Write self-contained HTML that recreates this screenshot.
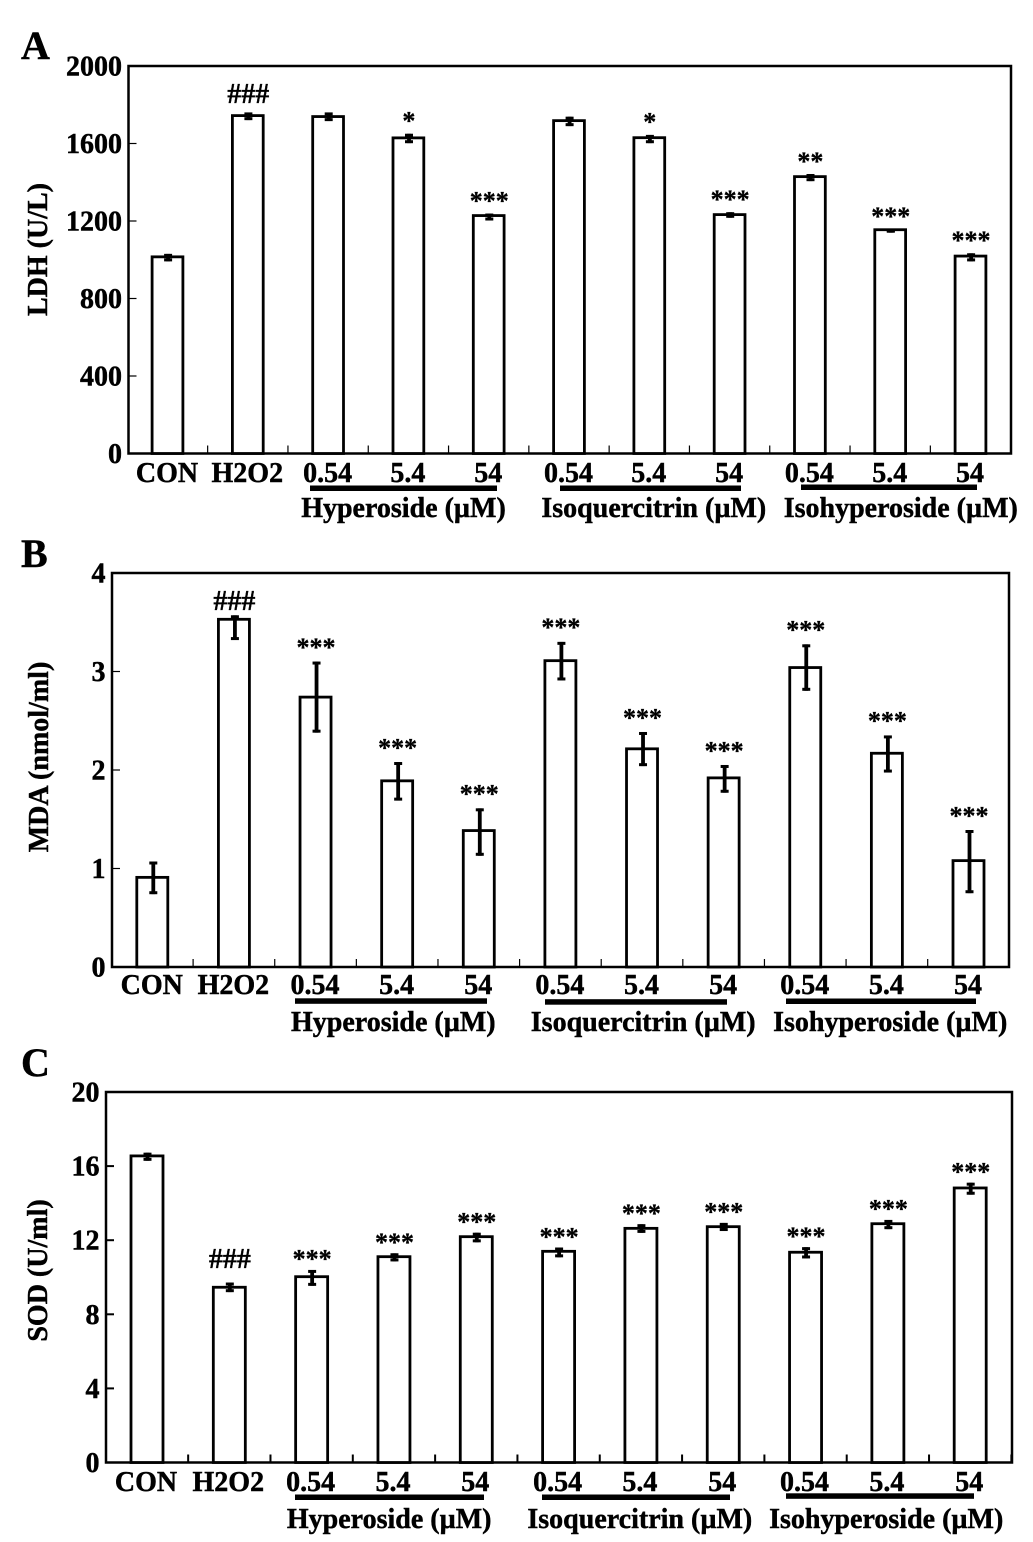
<!DOCTYPE html>
<html lang="en">
<head>
<meta charset="utf-8">
<title>LDH, MDA and SOD bar charts</title>
<style>
  html, body { margin: 0; padding: 0; background: #fff; }
  svg { display: block; }
  text { font-family: "Liberation Serif", "Times New Roman", serif; font-weight: bold; fill: #000; stroke: #000; stroke-width: 0.45px; }
  .t28 { font-size: 28px; }
  .sig { font-size: 26px; stroke-width: 0.3px; }
  .hash { font-size: 28px; stroke-width: 0.3px; }
  .letter { font-size: 40px; }
  .rule { fill: #000; }
</style>
</head>
<body>
<svg id="figure" xmlns="http://www.w3.org/2000/svg" width="1033" height="1542" viewBox="0 0 1033 1542">
  <rect x="0" y="0" width="1033" height="1542" fill="#fff"/>

  <text class="letter" x="21" y="59">A</text>
  <text class="letter" x="21" y="567">B</text>
  <text class="letter" x="21" y="1076">C</text>

  <text class="t28" text-anchor="middle" transform="translate(47 249.5) rotate(-90)">LDH (U/L)</text>
  <text class="t28" text-anchor="middle" transform="translate(48 757) rotate(-90)">MDA (nmol/ml)</text>
  <text class="t28" text-anchor="middle" transform="translate(47 1270.5) rotate(-90)">SOD (U/ml)</text>

  <rect class="rule" x="310" y="485.5" width="187" height="5.5"/>
  <rect class="rule" x="560" y="485.5" width="181" height="5.5"/>
  <rect class="rule" x="801" y="484.5" width="176" height="5.5"/>
  <text class="t28" text-anchor="middle" x="403.5" y="517">Hyperoside (µM)</text>
  <text class="t28" text-anchor="middle" x="653.8" y="517">Isoquercitrin (µM)</text>
  <text class="t28" text-anchor="middle" x="900.8" y="517">Isohyperoside (µM)</text>

  <rect class="rule" x="295" y="998.3" width="192" height="5.5"/>
  <rect class="rule" x="545" y="999.2" width="182" height="5.5"/>
  <rect class="rule" x="786" y="998.5" width="190" height="5.5"/>
  <text class="t28" text-anchor="middle" x="393.3" y="1031">Hyperoside (µM)</text>
  <text class="t28" text-anchor="middle" x="643.2" y="1031">Isoquercitrin (µM)</text>
  <text class="t28" text-anchor="middle" x="890.2" y="1031">Isohyperoside (µM)</text>

  <rect class="rule" x="295" y="1494.5" width="189" height="5.5"/>
  <rect class="rule" x="542" y="1494.5" width="188" height="5.5"/>
  <rect class="rule" x="786" y="1493.3" width="188" height="5.5"/>
  <text class="t28" text-anchor="middle" x="389.2" y="1528">Hyperoside (µM)</text>
  <text class="t28" text-anchor="middle" x="639.8" y="1528">Isoquercitrin (µM)</text>
  <text class="t28" text-anchor="middle" x="886.2" y="1528">Isohyperoside (µM)</text>
</svg>

<script>
const categories = ['CON', 'H2O2', '0.54', '5.4', '54', '0.54', '5.4', '54', '0.54', '5.4', '54'];

const ldhTicks = [0, 400, 800, 1200, 1600, 2000];
const ldhValues = [1015, 1744, 1739, 1629, 1228, 1718, 1630, 1233, 1429, 1155, 1019];
const ldhErrUpper = [1030, 1760, 1760, 1650, 1238, 1738, 1644, 1245, 1442, 1157, 1033];
const ldhErrLower = [992, 1721, 1716, 1602, 1203, 1690, 1602, 1217, 1406, 1140, 992];
const ldhMarks = ['', '###', '', '*', '***', '', '*', '***', '**', '***', '***'];

const mdaTicks = [0, 1, 2, 3, 4];
const mdaValues = [0.91, 3.53, 2.74, 1.89, 1.385, 3.11, 2.215, 1.92, 3.04, 2.17, 1.08];
const mdaErrUpper = [1.07, 3.57, 3.10, 2.08, 1.61, 3.30, 2.385, 2.05, 3.275, 2.35, 1.39];
const mdaErrLower = [0.74, 3.32, 2.38, 1.69, 1.13, 2.91, 2.04, 1.77, 2.805, 1.975, 0.75];
const mdaMarks = ['', '###', '***', '***', '***', '***', '***', '***', '***', '***', '***'];

const sodTicks = [0, 4, 8, 12, 16, 20];
const sodValues = [16.55, 9.46, 10.03, 11.11, 12.19, 11.4, 12.64, 12.73, 11.35, 12.89, 14.82];
const sodErrUpper = [16.72, 9.71, 10.39, 11.29, 12.4, 11.6, 12.86, 12.93, 11.62, 13.09, 15.1];
const sodErrLower = [16.29, 9.2, 9.54, 10.86, 11.89, 11.08, 12.4, 12.5, 11.02, 12.6, 14.46];
const sodMarks = ['', '###', '***', '***', '***', '***', '***', '***', '***', '***', '***'];

const svg = document.getElementById('figure');

function make(tag, attrs, text) {
  const el = document.createElementNS('http://www.w3.org/2000/svg', tag);
  for (const key in attrs) el.setAttribute(key, attrs[key]);
  if (text !== undefined) el.textContent = text;
  svg.appendChild(el);
  return el;
}

function drawPanel(p) {
  const yMax = p.ticks[p.ticks.length - 1];
  const yScale = v => p.bottom - (v / yMax) * (p.bottom - p.top);
  const xScale = i => p.firstX + i * p.stepX;

  const frame = make('rect', { x: p.left, y: p.top, width: p.right - p.left, height: p.bottom - p.top, fill: 'none', stroke: '#000', 'stroke-width': 2.5 });
  
  

  p.ticks.forEach(t => {
    if (t !== 0 && t !== yMax) {
      const tick = make('line', { x1: p.left, x2: p.left + 8, y1: yScale(t), y2: yScale(t), stroke: '#000', 'stroke-width': p.tickWidth });
      
      
    }
    const label = make('text', { class: 't28', 'text-anchor': 'end', x: p.left - 6.5, y: yScale(t) + 9.5 }, String(t));
    
    
  });

  categories.forEach((c, i) => {
    const cx = xScale(i);
    const bw = p.barWidth;

    const tick = make('line', { x1: cx + p.stepX / 2, x2: cx + p.stepX / 2, y1: p.bottom, y2: p.bottom - 8, stroke: '#000', 'stroke-width': p.tickWidth });
    
    

    const bar = make('rect', { x: cx - bw / 2, y: yScale(p.values[i]), width: bw, height: p.bottom - yScale(p.values[i]), fill: '#fff', stroke: '#000', 'stroke-width': 2.8 });
    
    

    const ex = cx + p.errShift;
    const stem = make('line', { x1: ex, x2: ex, y1: yScale(p.errUpper[i]), y2: yScale(p.errLower[i]), stroke: '#000', 'stroke-width': 3.8 });
    
    

    const capTop = make('line', { x1: ex - 4, x2: ex + 4, y1: yScale(p.errUpper[i]) + 1.4, y2: yScale(p.errUpper[i]) + 1.4, stroke: '#000', 'stroke-width': 3 });
    
    

    const capBottom = make('line', { x1: ex - 4, x2: ex + 4, y1: yScale(p.errLower[i]) - 1.4, y2: yScale(p.errLower[i]) - 1.4, stroke: '#000', 'stroke-width': 3 });
    
    

    const xLabel = make('text', { class: 't28', 'text-anchor': 'middle', x: cx + p.labelShift, y: p.labelY }, c);
    
    

    const mark = p.marks[i];
    if (mark) {
      const isHash = mark.charAt(0) === '#';
      const markCentre = yScale(p.errUpper[i]) - (isHash ? p.hashGap : p.starGap);
      const sig = make('text', { class: isHash ? 'hash' : 'sig', 'text-anchor': 'middle', x: cx + 0.5, y: markCentre + (isHash ? 9.5 : 12.2) }, mark);
      
      
    }
  });
}

drawPanel({ id: 'ldh', ticks: ldhTicks, values: ldhValues, errUpper: ldhErrUpper, errLower: ldhErrLower, marks: ldhMarks,
  left: 128.5, right: 1011, top: 66, bottom: 453.5, firstX: 167.5, stepX: 80.3, barWidth: 30.8,
  errShift: 0.6, labelShift: -0.5, labelY: 482, tickWidth: 1.2, starGap: 16.5, hashGap: 19 });

drawPanel({ id: 'mda', ticks: mdaTicks, values: mdaValues, errUpper: mdaErrUpper, errLower: mdaErrLower, marks: mdaMarks,
  left: 112, right: 1009, top: 573, bottom: 967, firstX: 152.3, stepX: 81.62, barWidth: 31,
  errShift: 1, labelShift: -0.5, labelY: 994, tickWidth: 1.2, starGap: 18, hashGap: 15 });

drawPanel({ id: 'sod', ticks: sodTicks, values: sodValues, errUpper: sodErrUpper, errLower: sodErrLower, marks: sodMarks,
  left: 106, right: 1012, top: 1092, bottom: 1462.5, firstX: 147, stepX: 82.32, barWidth: 32,
  errShift: 0.5, labelShift: -1, labelY: 1491, tickWidth: 2, starGap: 14.5, hashGap: 24 });
</script>
</body>
</html>
